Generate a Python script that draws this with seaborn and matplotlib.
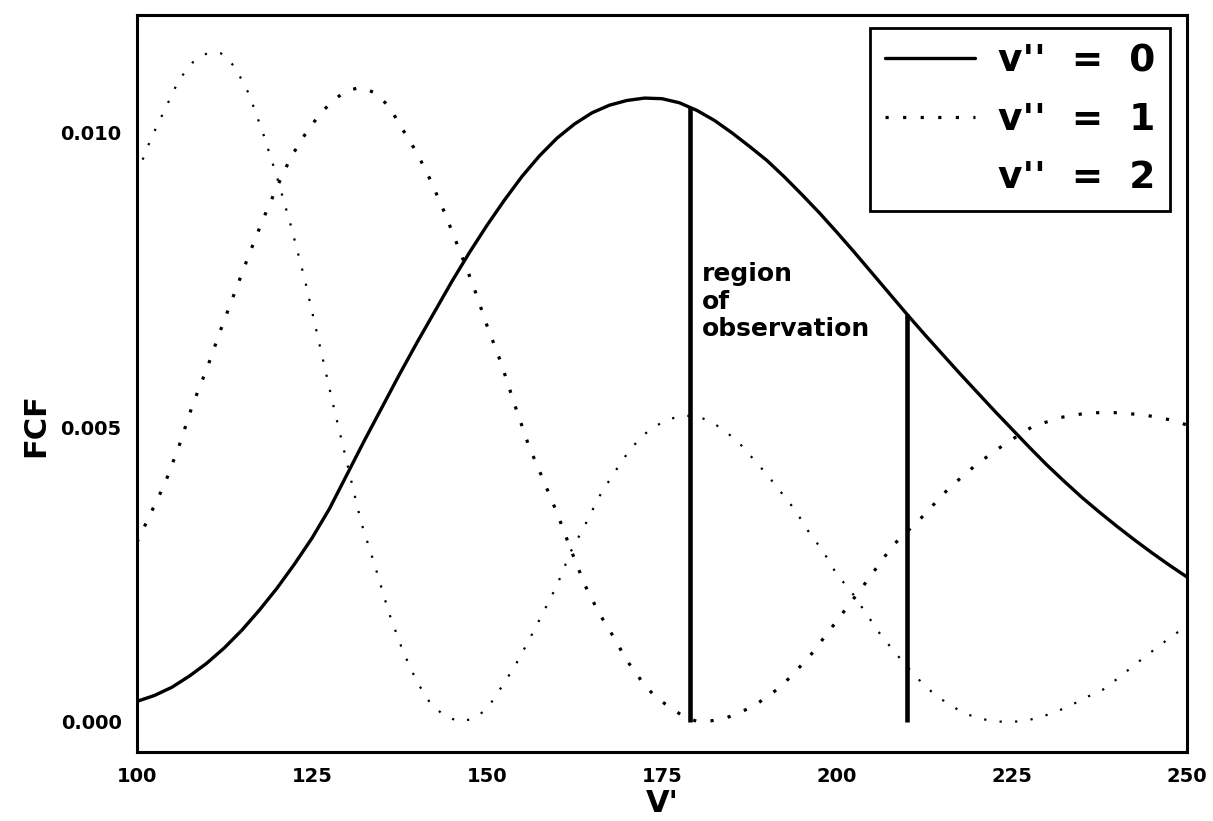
"""FCF vs V' for v'' = 0, 1, 2 with the region of observation marked."""
import matplotlib
matplotlib.use("Agg")
import matplotlib.pyplot as plt
import numpy as np
import pandas as pd
import seaborn as sns

# v'' = 0
v0_x = [100, 102.5, 105, 107.5, 110, 112.5, 115, 117.5, 120, 122.5, 125, 127.5, 130,
        132.5, 135, 137.5, 140, 142.5, 145, 147.5, 150, 152.5, 155, 157.5, 160, 162.5,
        165, 167.5, 170, 172.5, 175, 177.5, 180, 182.5, 185, 187.5, 190, 192.5, 195,
        197.5, 200, 202.5, 205, 207.5, 210, 212.5, 215, 217.5, 220, 222.5, 225, 227.5,
        230, 232.5, 235, 237.5, 240, 242.5, 245, 247.5, 250]
v0_y = [0.00035, 0.00045, 0.00059, 0.00078, 0.00100, 0.00126, 0.00156, 0.00190, 0.00227,
        0.00268, 0.00312, 0.00362, 0.00420, 0.00478, 0.00534, 0.00590, 0.00644, 0.00696,
        0.00748, 0.00797, 0.00843, 0.00886, 0.00926, 0.00961, 0.00991, 0.01015, 0.01034,
        0.01047, 0.01055, 0.01059, 0.01058, 0.01051, 0.01038, 0.01021, 0.01000, 0.00977,
        0.00953, 0.00925, 0.00895, 0.00864, 0.00831, 0.00797, 0.00762, 0.00727, 0.00692,
        0.00658, 0.00625, 0.00592, 0.00560, 0.00528, 0.00497, 0.00466, 0.00436, 0.00408,
        0.00381, 0.00356, 0.00332, 0.00309, 0.00287, 0.00266, 0.00246]

# v'' = 1
v1_x = [100, 102, 104, 106, 108, 110, 112, 114, 116, 118, 120, 122, 124, 126, 128, 130,
        132, 134, 136, 138, 140, 142, 144, 146, 148, 150, 152, 154, 156, 158, 160, 162,
        164, 166, 168, 170, 172, 174, 176, 178, 180, 182, 184, 188, 192, 196, 200, 204,
        208, 212, 216, 220, 224, 228, 232, 236, 240, 244, 248, 250]
v1_y = [0.00305, 0.00355, 0.00405, 0.00468, 0.00540, 0.00600, 0.00667, 0.00730, 0.00793,
        0.00853, 0.00908, 0.00959, 0.00997, 0.01030, 0.01055, 0.01072, 0.01077, 0.01068,
        0.01045, 0.01005, 0.00966, 0.00918, 0.00863, 0.00803, 0.00742, 0.00673, 0.00610,
        0.00537, 0.00468, 0.00412, 0.00355, 0.00292, 0.00232, 0.00185, 0.00146, 0.00104,
        0.00071, 0.00043, 0.00026, 0.00010, 0.00001, 0.00002, 0.00006, 0.00026, 0.00060,
        0.00110, 0.00172, 0.00235, 0.00300, 0.00346, 0.00397, 0.00438, 0.00472, 0.00502,
        0.00517, 0.00525, 0.00525, 0.00521, 0.00512, 0.00504]

# v'' = 2
v2_x = [100, 102, 104, 106, 108, 110, 112, 114, 116, 118, 120, 122, 124, 126, 128, 130,
        132, 134, 136, 138, 140, 142, 144, 146, 148, 150, 152, 154, 156, 158, 160, 162,
        164, 166, 168, 170, 172, 174, 176, 178, 180, 182, 184, 186, 188, 190, 192, 194,
        196, 198, 200, 202, 204, 206, 208, 210, 212, 214, 216, 218, 220, 222, 224, 226,
        228, 230, 232, 234, 236, 238, 240, 242, 244, 246, 248, 250]
v2_y = [0.00930, 0.00990, 0.01040, 0.01090, 0.01120, 0.01135, 0.01135, 0.01112, 0.01066,
        0.01000, 0.00925, 0.00842, 0.00750, 0.00645, 0.00540, 0.00440, 0.00340, 0.00265,
        0.00185, 0.00120, 0.00068, 0.00030, 0.00010, 0.00001, 0.00005, 0.00022, 0.00058,
        0.00095, 0.00139, 0.00185, 0.00232, 0.00290, 0.00334, 0.00382, 0.00420, 0.00455,
        0.00484, 0.00502, 0.00514, 0.00520, 0.00519, 0.00510, 0.00494, 0.00474, 0.00447,
        0.00420, 0.00390, 0.00360, 0.00322, 0.00290, 0.00250, 0.00222, 0.00187, 0.00152,
        0.00122, 0.00094, 0.00068, 0.00046, 0.00030, 0.00016, 0.00007, 0.00002, 0.00000,
        0.00001, 0.00005, 0.00012, 0.00021, 0.00032, 0.00044, 0.00055, 0.00073, 0.00092,
        0.00111, 0.00129, 0.00147, 0.00163]

obs_limits = [179, 210]
x_ticks = [100, 125, 150, 175, 200, 225, 250]
y_ticks = [0.000, 0.005, 0.010]
labels = ["v''  =  0", "v''  =  1", "v''  =  2"]

sns.set_style("white")
plt.rcParams["font.family"] = ["DejaVu Sans"]
plt.rcParams["text.color"] = "black"
plt.rcParams["axes.labelcolor"] = "black"
plt.rcParams["xtick.color"] = "black"
plt.rcParams["ytick.color"] = "black"

fig = plt.figure(figsize=(12.13, 8.21), dpi=100)
ax = fig.add_axes([0.1129, 0.0840, 0.8657, 0.8977])

df0 = pd.DataFrame({"v": v0_x, "fcf": v0_y})
df1 = pd.DataFrame({"v": v1_x, "fcf": v1_y})
df2 = pd.DataFrame({"v": v2_x, "fcf": v2_y})

sns.lineplot(data=df0, x="v", y="fcf", ax=ax, color="black", lw=2.4,
             estimator=None, label=labels[0])
sns.lineplot(data=df1, x="v", y="fcf", ax=ax, color="black", lw=2.3,
             linestyle=(0, (1, 4.5)), estimator=None, label=labels[1])
sns.lineplot(data=df2, x="v", y="fcf", ax=ax, color="black", lw=1.6,
             linestyle=(0, (1, 6)), estimator=None, label=labels[2])

# vertical lines up to the v''=0 curve
tops = np.interp(obs_limits, v0_x, v0_y)
ax.vlines(obs_limits, 0, tops, color="black", lw=3.3)
ax.text(180.7, 0.00781, "region\nof\nobservation", ha="left", va="top",
        fontsize=18, fontweight="bold", linespacing=1.2, color="black")

ax.set_xlim(100, 250)
ax.set_ylim(-0.00051, 0.0120)
ax.set_xticks(x_ticks)
ax.set_yticks(y_ticks)
ax.set_yticklabels([f"{t:.3f}" for t in y_ticks])
ax.tick_params(direction="in", length=5, width=1.5, labelsize=14, pad=11)
for lab in ax.get_xticklabels() + ax.get_yticklabels():
    lab.set_fontweight("bold")

ax.set_xlabel("V'", fontsize=22, fontweight="bold")
ax.set_ylabel("FCF", fontsize=22, fontweight="bold")
ax.xaxis.label.set_va("center")
ax.xaxis.set_label_coords(0.5, -0.070)
ax.yaxis.set_label_coords(-0.083, 0.444)

for s in ax.spines.values():
    s.set_color("black")
    s.set_linewidth(2.2)

leg = ax.legend(loc="upper right", bbox_to_anchor=(0.984, 0.982), fontsize=27,
                frameon=True, fancybox=False, framealpha=1, edgecolor="black",
                handlelength=2.4, handletextpad=0.6, labelspacing=0.6,
                borderpad=0.4, borderaxespad=0)
leg.get_frame().set_linewidth(2.0)
leg.legend_handles[2].set_visible(False)
for t in leg.get_texts():
    t.set_color("black")
    t.set_fontweight("bold")

fig.savefig("out.png", dpi=100)
plt.close(fig)
